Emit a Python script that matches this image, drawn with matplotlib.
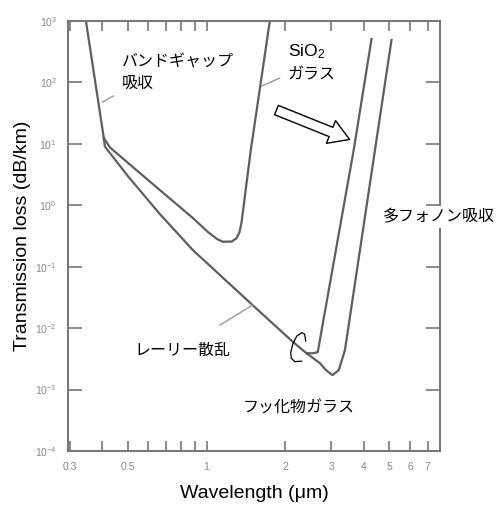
import matplotlib.pyplot as plt
from matplotlib.ticker import FixedLocator, FixedFormatter, NullLocator

plt.rcParams['font.family'] = ['Liberation Sans', 'DejaVu Sans']
plt.rcParams['mathtext.fontset'] = 'custom'
plt.rcParams['mathtext.rm'] = 'Liberation Sans'
plt.rcParams['mathtext.it'] = 'Liberation Sans:italic'
jp = ['Noto Sans CJK JP', 'DejaVu Sans']

# band-gap absorption edge (common to both glasses), wavelength in um, loss in dB/km
uv_wl = [0.346, 0.398, 0.405]
uv_loss = [1000, 20.2, 12.4]

# SiO2 glass
sio2_wl = [0.405, 0.428, 0.663, 0.887, 1.01, 1.10, 1.154, 1.249, 1.30, 1.335, 1.36, 1.476, 1.745]
sio2_loss = [12.4, 8.7, 1.77, 0.62, 0.37, 0.28, 0.255, 0.257, 0.29, 0.36, 0.52, 7.93, 1000]

# fluoride glass: Rayleigh scattering line + multiphonon edge
fl_wl = [0.405, 0.409, 0.50, 0.663, 0.887, 1.50, 2.135, 2.41, 2.71, 2.86, 3.03, 3.20, 3.38, 5.09]
fl_loss = [12.4, 9.0, 3.0, 0.72, 0.186, 0.0237, 6.0e-3, 3.9e-3, 2.7e-3, 2.07e-3, 1.72e-3, 2.07e-3, 4.4e-3, 490]

# second multiphonon edge leaving the Rayleigh line
fl2_wl = [2.41, 2.55, 2.66, 3.65, 4.27]
fl2_loss = [3.9e-3, 3.9e-3, 4.07e-3, 7.93, 509]

# hand drawn mark near the crossing
curl_wl = [2.393, 2.372, 2.311, 2.211, 2.135, 2.098, 2.107, 2.173, 2.311]
curl_loss = [6.14e-3, 7.98e-3, 8.45e-3, 7.41e-3, 5.48e-3, 4.06e-3, 3.25e-3, 2.85e-3, 2.90e-3]

xticks = [0.3, 0.4, 0.5, 0.6, 0.7, 0.8, 0.9, 1, 2, 3, 4, 5, 6, 7]
xlabels = ['0.3', '', '0.5', '', '', '', '', '1', '2', '3', '4', '5', '6', '7']
yticks = [1e-4, 1e-3, 1e-2, 1e-1, 1e0, 1e1, 1e2, 1e3]
ylabels = ['$10^{-4}$', '$10^{-3}$', '$10^{-2}$', '$10^{-1}$', '$10^{0}$', '$10^{1}$', '$10^{2}$', '$10^{3}$']

fig = plt.figure(figsize=(5.03, 5.08), dpi=100)
ax = fig.add_axes([68/503, 1 - 451/508, 372/503, 430/508])
ax.set_xscale('log')
ax.set_yscale('log')
ax.set_xlim(0.2955, 7.8)
ax.set_ylim(1e-4, 1e3)

lc = '#5e5e5e'
ax.plot(uv_wl, uv_loss, color=lc, lw=1.6)
ax.plot(sio2_wl, sio2_loss, color=lc, lw=1.6)
ax.plot(fl_wl, fl_loss, color=lc, lw=1.6)
ax.plot(fl2_wl, fl2_loss, color=lc, lw=1.6)
ax.plot(curl_wl, curl_loss, color='black', lw=0.9)

# leader lines
ax.plot([0.40, 0.44], [48, 60], color='#999999', lw=1)
ax.plot([1.62, 1.9], [87, 117], color='#999999', lw=1)
ax.plot([1.50, 1.124], [0.0237, 0.0112], color='#999999', lw=1)

ax.annotate('', xy=(3.52, 11.8), xytext=(1.85, 35.5),
            arrowprops=dict(arrowstyle='simple,head_length=0.9,head_width=1.1,tail_width=0.45',
                            fc='white', ec='black', lw=1, mutation_scale=16,
                            shrinkA=0, shrinkB=0))

box = dict(fc='white', ec='none', pad=2)
ax.text(0.4737, 217, 'バンドギャップ', family=jp, fontsize=11.5, va='center', bbox=box)
ax.text(0.4737, 97.8, '吸収', family=jp, fontsize=11.5, va='center', bbox=box)
ax.text(2.043, 316, 'SiO$_2$', fontsize=12.5, va='center', bbox=box)
ax.text(2.043, 132, 'ガラス', family=jp, fontsize=11.5, va='center', bbox=box)
ax.text(4.71, 0.65, '多フォノン吸収', family=jp, fontsize=11.5, va='center',
        bbox=box, clip_on=False, zorder=5)
ax.text(0.532, 4.39e-3, 'レーリー散乱', family=jp, fontsize=11.5, va='center', bbox=box)
ax.text(1.375, 4.98e-4, 'フッ化物ガラス', family=jp, fontsize=11.5, va='center', bbox=box)

ax.xaxis.set_major_locator(FixedLocator(xticks))
ax.xaxis.set_major_formatter(FixedFormatter(xlabels))
ax.xaxis.set_minor_locator(NullLocator())
ax.yaxis.set_major_locator(FixedLocator(yticks))
ax.yaxis.set_major_formatter(FixedFormatter(ylabels))
ax.yaxis.set_minor_locator(NullLocator())
ax.tick_params(which='both', direction='in', top=True, right=True, color='#777777',
               labelcolor='#888888', labelsize=7.5, width=1.2, pad=8)
ax.tick_params(axis='x', length=7)
ax.tick_params(axis='y', length=10)
for s in ax.spines.values():
    s.set_color('#777777')
    s.set_linewidth(1.5)

ax.set_xlabel('Wavelength (μm)', fontsize=14)
ax.set_ylabel('Transmission loss (dB/km)', fontsize=14)
ax.xaxis.set_label_coords(0.5, -0.08)
ax.yaxis.set_label_coords(-0.1, 0.5)

fig.savefig('out.png', dpi=100)
